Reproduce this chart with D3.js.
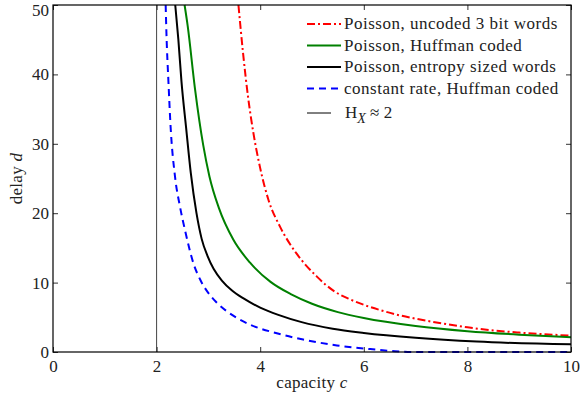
<!DOCTYPE html>
<html>
<head>
<meta charset="utf-8">
<script src="https://cdn.jsdelivr.net/npm/d3@7"></script>
<style>
  body { margin: 0; background: #fff; }
  svg { display: block; }
  svg text { font-family: "Liberation Serif", "DejaVu Serif", serif; }
</style>
</head>
<body>
<svg id="chart" width="581" height="403"></svg>
<script>
// x values (capacity c) and y values (delay d)
const xTicks = [0, 2, 4, 6, 8, 10];
const yTicks = [0, 10, 20, 30, 40, 50];
const entropyLine = 2;

const poissonUncoded = [
  [3.58, 50], [3.67, 43.0], [3.77, 36.5], [3.87, 31.5], [4.0, 26.5],
  [4.16, 21.9], [4.38, 18.1], [4.7, 14.2], [5.09, 10.9], [5.44, 8.7],
  [5.73, 7.6], [6.0, 6.8], [6.31, 6.05], [6.6, 5.45], [7.0, 4.8],
  [7.53, 4.1], [8.0, 3.55], [8.44, 3.15], [9.0, 2.8], [10, 2.35]
];
const poissonHuffman = [
  [2.54, 50], [2.6, 47.0], [2.74, 38.0], [2.9, 29.8], [3.02, 25.3],
  [3.2, 20.8], [3.48, 16.2], [3.8, 12.9], [4.2, 10.1], [4.6, 8.3],
  [5.0, 6.95], [5.5, 5.75], [6.0, 4.9], [7.0, 3.75], [8.0, 3.0],
  [9.0, 2.5], [10, 2.13]
];
const poissonEntropy = [
  [2.36, 50], [2.42, 45.0], [2.48, 39.0], [2.57, 32.3], [2.66, 25.8],
  [2.77, 20.0], [2.87, 16.3], [2.98, 13.9], [3.1, 12.0], [3.26, 10.3],
  [3.45, 8.9], [3.67, 7.75], [4.0, 6.4], [4.35, 5.35], [4.8, 4.3],
  [5.4, 3.35], [6.0, 2.75], [7.0, 2.05], [8.18, 1.5], [10, 1.1]
];
const constantHuffman = [
  [2.175, 50], [2.19, 45.9], [2.23, 38.7], [2.27, 32.5], [2.355, 25.3],
  [2.45, 21.0], [2.55, 17.5], [2.71, 12.8], [2.85, 10.3], [2.97, 8.8],
  [3.15, 7.2], [3.35, 5.9], [3.55, 4.9], [3.8, 3.95], [4.32, 2.7],
  [4.83, 1.8], [5.48, 0.95], [6.12, 0.42], [6.6, 0.12], [7.0, 0], [10, 0]
];

const series = [
  { name: "Poisson, uncoded 3 bit words", data: poissonUncoded, color: "#ff0000", width: 2, dash: "8,3,2,3" },
  { name: "Poisson, Huffman coded", data: poissonHuffman, color: "#008000", width: 2, dash: null },
  { name: "Poisson, entropy sized words", data: poissonEntropy, color: "#000000", width: 2, dash: null },
  { name: "constant rate, Huffman coded", data: constantHuffman, color: "#0000ff", width: 2, dash: "7,5" }
];

const dims = { left: 53, right: 571, top: 5, bottom: 352 };
const serif = "'Liberation Serif', 'DejaVu Serif', serif";

const svg = d3.select("#chart");

const x = d3.scaleLinear().domain([0, 10]).range([dims.left, dims.right]);
const y = d3.scaleLinear().domain([0, 50]).range([dims.bottom, dims.top]);

svg.append("defs").append("clipPath").attr("id", "plot-clip")
  .append("rect")
  .attr("x", dims.left).attr("y", dims.top - 1)
  .attr("width", dims.right - dims.left).attr("height", dims.bottom - dims.top + 2);

// vertical entropy line
svg.append("line")
  .attr("x1", x(entropyLine)).attr("x2", x(entropyLine))
  .attr("y1", y(0)).attr("y2", y(50))
  .attr("stroke", "#444").attr("stroke-width", 1);

const line = d3.line()
  .x((d) => x(d[0]))
  .y((d) => y(d[1]))
  .curve(d3.curveMonotoneX);

const gLines = svg.append("g").attr("clip-path", "url(#plot-clip)");
gLines.selectAll("path")
  .data(series)
  .join("path")
  .attr("fill", "none")
  .attr("stroke", (d) => d.color)
  .attr("stroke-width", (d) => d.width)
  .attr("stroke-dasharray", (d) => d.dash)
  .attr("d", (d) => line(d.data));

// axes, ticks pointing inward on all four sides
const tick = 5;
const plain = (g) => {
  g.attr("font-family", serif).attr("font-size", 17);
  g.select(".domain").remove();
  g.selectAll(".tick line").attr("stroke", "#333");
  g.selectAll(".tick text").attr("fill", "#222");
};
svg.append("g")
  .attr("transform", `translate(0,${dims.bottom})`)
  .call(d3.axisBottom(x).tickValues(xTicks).tickSizeInner(-tick).tickSizeOuter(0).tickPadding(8))
  .call(plain);
svg.append("g")
  .attr("transform", `translate(0,${dims.top})`)
  .call(d3.axisTop(x).tickValues(xTicks).tickSizeInner(-tick).tickSizeOuter(0).tickFormat(""))
  .call(plain);
svg.append("g")
  .attr("transform", `translate(${dims.left},0)`)
  .call(d3.axisLeft(y).tickValues(yTicks).tickSizeInner(-tick).tickSizeOuter(0).tickPadding(4))
  .call(plain)
  .call((g) => g.selectAll(".tick text").filter((d) => d === 50).attr("dy", "0.6em"));
svg.append("g")
  .attr("transform", `translate(${dims.right},0)`)
  .call(d3.axisRight(y).tickValues(yTicks).tickSizeInner(-tick).tickSizeOuter(0).tickFormat(""))
  .call(plain);

svg.append("rect")
  .attr("x", dims.left).attr("y", dims.top)
  .attr("width", dims.right - dims.left).attr("height", dims.bottom - dims.top)
  .attr("fill", "none").attr("stroke", "#000").attr("stroke-width", 1.2);

// axis labels
const xLabel = svg.append("text")
  .attr("x", (dims.left + dims.right) / 2).attr("y", 388)
  .attr("text-anchor", "middle").attr("font-family", serif).attr("font-size", 17)
  .attr("letter-spacing", 0.3).attr("fill", "#222");
xLabel.append("tspan").text("capacity ");
xLabel.append("tspan").attr("font-style", "italic").text("c");

const yLabel = svg.append("text")
  .attr("transform", `translate(22,${(dims.top + dims.bottom) / 2}) rotate(-90)`)
  .attr("text-anchor", "middle").attr("font-family", serif).attr("font-size", 17)
  .attr("letter-spacing", 0.3).attr("fill", "#222");
yLabel.append("tspan").text("delay ");
yLabel.append("tspan").attr("font-style", "italic").text("d");

// legend
const legend = svg.append("g").attr("transform", "translate(307,24)");
const rowH = 21.5;
const rows = legend.selectAll("g.row")
  .data(series)
  .join("g")
  .attr("class", "row")
  .attr("transform", (d, i) => `translate(0,${i * rowH})`);
rows.append("line")
  .attr("x1", 0).attr("x2", 34)
  .attr("stroke", (d) => d.color)
  .attr("stroke-width", (d) => d.width)
  .attr("stroke-dasharray", (d) => d.dash);
rows.append("text")
  .attr("x", 37).attr("dy", "0.32em")
  .attr("font-family", serif).attr("font-size", 17).attr("letter-spacing", 0.5).attr("fill", "#222")
  .text((d) => d.name);

const hRow = legend.append("g").attr("transform", `translate(0,${4 * rowH + 3})`);
hRow.append("line").attr("x1", 0).attr("x2", 24).attr("stroke", "#000").attr("stroke-width", 1);
const hText = hRow.append("text").attr("x", 38).attr("dy", "0.32em")
  .attr("font-family", serif).attr("font-size", 17).attr("fill", "#222");
hText.append("tspan").text("H");
hText.append("tspan").attr("font-style", "italic").attr("font-size", 14).attr("dy", 5).text("X");
hText.append("tspan").attr("dy", -5).text(" \u2248 2");
</script>
</body>
</html>
